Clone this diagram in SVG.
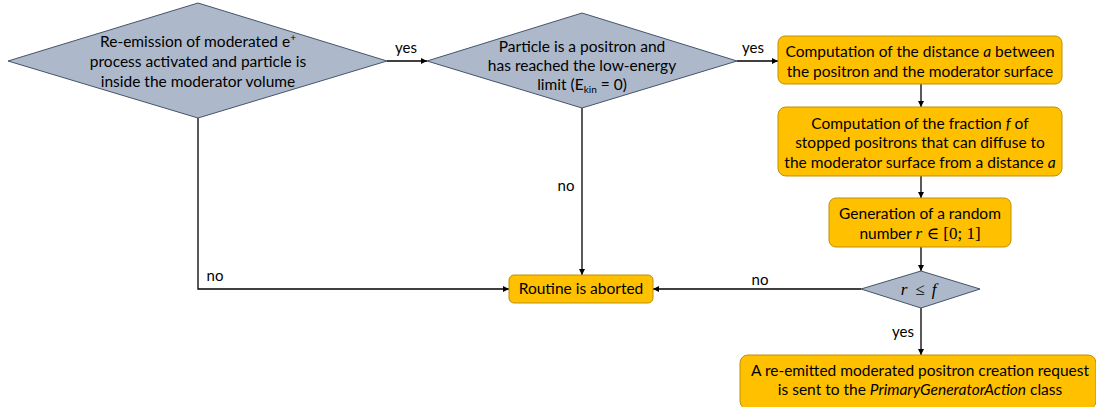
<svg xmlns="http://www.w3.org/2000/svg" width="1096" height="407" viewBox="0 0 1096 407">
  <defs>
    <marker id="arrow" viewBox="0 0 10 10" refX="10" refY="5" markerWidth="6" markerHeight="6" markerUnits="userSpaceOnUse" orient="auto">
      <path d="M0,0 L10,5 L0,10 z" fill="#000"/>
    </marker>
    <style>
      .dec { fill: #adb9ca; stroke: #44546a; stroke-width: 1; }
      .act { fill: #ffc000; stroke: #bf9000; stroke-width: 1; }
      .txt { font-family: Lato, "Open Sans", "Liberation Sans", sans-serif; font-size: 15.5px; fill: #000; text-anchor: middle; }
      .lbl { font-family: Lato, "Open Sans", "Liberation Sans", sans-serif; font-size: 15px; fill: #000; }
      .math { font-family: "Liberation Serif", "DejaVu Serif", serif; font-style: italic; font-size: 17px; }
      .mathr { font-family: "Liberation Serif", "DejaVu Serif", serif; font-style: normal; font-size: 17px; }
      .edge { fill: none; stroke: #000; stroke-width: 1.3; marker-end: url(#arrow); }
    </style>
  </defs>
  <rect width="1096" height="407" fill="#fff"/>

  <!-- connectors -->
  <g id="connectors">
    <path class="edge" d="M387,61 H427"/>
    <path class="edge" d="M737,61 H778"/>
    <path class="edge" d="M921,84 V107"/>
    <path class="edge" d="M921,176 V198"/>
    <path class="edge" d="M921,247 V271"/>
    <path class="edge" d="M921,308 V355"/>
    <path class="edge" d="M861,289 H653"/>
    <path class="edge" d="M582,108 V275"/>
    <path class="edge" d="M198,118 V289 H509"/>
    <text class="lbl" x="406" y="53" text-anchor="middle">yes</text>
    <text class="lbl" x="753" y="53" text-anchor="middle">yes</text>
    <text class="lbl" x="215" y="281" text-anchor="middle">no</text>
    <text class="lbl" x="566" y="191" text-anchor="middle">no</text>
    <text class="lbl" x="760" y="285" text-anchor="middle">no</text>
    <text class="lbl" x="903" y="337" text-anchor="middle">yes</text>
  </g>

  <!-- decision: re-emission enabled and inside moderator -->
  <g id="check-process">
    <polygon class="dec" points="198,3 387,61 198,118 8,61"/>
    <text class="txt" x="198" y="47">Re-emission of moderated e<tspan font-size="10" dy="-6">+</tspan></text>
    <text class="txt" x="198" y="67">process activated and particle is</text>
    <text class="txt" x="198" y="87">inside the moderator volume</text>
  </g>

  <!-- decision: positron at low-energy limit -->
  <g id="check-positron">
    <polygon class="dec" points="582,13 737,61 582,108 427,61"/>
    <text class="txt" x="582" y="52">Particle is a positron and</text>
    <text class="txt" x="582" y="71">has reached the low-energy</text>
    <text class="txt" x="582" y="90">limit (E<tspan font-size="10" dy="3">kin</tspan><tspan dy="-3"> = 0)</tspan></text>
  </g>

  <!-- distance to surface -->
  <g id="compute-distance">
    <rect class="act" x="778" y="36" width="284" height="48" rx="7"/>
    <text class="txt" x="920" y="57">Computation of the distance <tspan font-style="italic">a</tspan> between</text>
    <text class="txt" x="920" y="77">the positron and the moderator surface</text>
  </g>

  <!-- diffusion fraction -->
  <g id="compute-fraction">
    <rect class="act" x="778" y="107" width="284" height="69" rx="8"/>
    <text class="txt" x="920" y="129">Computation of the fraction <tspan font-style="italic">f</tspan> of</text>
    <text class="txt" x="920" y="148">stopped positrons that can diffuse to</text>
    <text class="txt" x="920" y="168">the moderator surface from a distance <tspan font-style="italic">a</tspan></text>
  </g>

  <!-- random number -->
  <g id="random-number">
    <rect class="act" x="829" y="198" width="182" height="49" rx="7"/>
    <text class="txt" x="920" y="219">Generation of a random</text>
    <text class="txt" x="920" y="239">number <tspan class="math">r</tspan><tspan class="mathr"> ∈ [0; 1]</tspan></text>
  </g>

  <!-- decision: r <= f -->
  <g id="check-r">
    <polygon class="dec" points="921,271 980,289 921,308 861,289"/>
    <text class="txt" y="295" font-size="18"><tspan class="math" font-size="18" x="904">r</tspan><tspan class="mathr" font-size="18" x="920">≤</tspan><tspan class="math" font-size="18" x="934">f</tspan></text>
  </g>

  <!-- abort -->
  <g id="abort">
    <rect class="act" x="509" y="275" width="144" height="28" rx="5"/>
    <text class="txt" x="581" y="294">Routine is aborted</text>
  </g>

  <!-- creation request -->
  <g id="request">
    <rect class="act" x="740" y="355" width="356" height="54" rx="8"/>
    <text class="txt" x="920" y="376">A re-emitted moderated positron creation request</text>
    <text class="txt" x="920" y="395">is sent to the <tspan font-style="italic">PrimaryGeneratorAction</tspan> class</text>
  </g>
</svg>
